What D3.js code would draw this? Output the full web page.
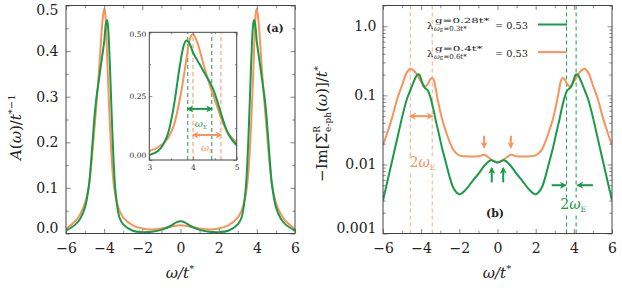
<!DOCTYPE html>
<html>
<head>
<meta charset="utf-8">
<script src="https://cdn.jsdelivr.net/npm/d3@7"></script>
<style>
  body { margin: 0; background: #fff; }
  svg { display: block; font-family: "DejaVu Serif", serif; }
</style>
</head>
<body>
<div class="canvas"></div>
<script>
// spectral function A(w), panel (a)
const omegaA = [-6, -5.5, -5.25, -5, -4.8, -4.7, -4.6, -4.5, -4.4, -4.3, -4.2, -4.1, -4, -3.95, -3.9, -3.85, -3.8, -3.7, -3.55, -3.4, -3.2, -3, -2.5, -2, -1.5, -1, -0.5, -0.25,
  0, 0.25, 0.5, 1, 1.5, 2, 2.5, 3, 3.2, 3.4, 3.55, 3.7, 3.8, 3.85, 3.9, 3.95, 4, 4.1, 4.2, 4.3, 4.4, 4.5, 4.6, 4.7, 4.8, 5, 5.25, 5.5, 6];
const greenA = [0.006, 0.02, 0.033, 0.058, 0.105, 0.15, 0.205, 0.26, 0.30, 0.33, 0.36, 0.39, 0.42, 0.445, 0.462, 0.468, 0.455, 0.37, 0.2, 0.09, 0.035, 0.02, 0.006, 0.003, 0.004, 0.008, 0.017, 0.024,
  0.027, 0.024, 0.017, 0.008, 0.004, 0.003, 0.006, 0.02, 0.035, 0.09, 0.2, 0.37, 0.455, 0.468, 0.462, 0.445, 0.42, 0.39, 0.36, 0.33, 0.30, 0.26, 0.205, 0.15, 0.105, 0.058, 0.033, 0.02, 0.006];
const orangeA = [0.01, 0.028, 0.043, 0.068, 0.105, 0.14, 0.185, 0.235, 0.285, 0.34, 0.40, 0.46, 0.493, 0.485, 0.45, 0.395, 0.34, 0.24, 0.13, 0.08, 0.05, 0.035, 0.018, 0.011, 0.009, 0.011, 0.015, 0.017,
  0.018, 0.017, 0.015, 0.011, 0.009, 0.011, 0.018, 0.035, 0.05, 0.08, 0.13, 0.24, 0.34, 0.395, 0.45, 0.485, 0.493, 0.46, 0.40, 0.34, 0.285, 0.235, 0.185, 0.14, 0.105, 0.068, 0.043, 0.028, 0.01];

// -Im Sigma, panel (b)
const omegaS = [-6, -5.75, -5.5, -5.25, -5, -4.75, -4.57, -4.4, -4.3, -4.2, -4.1, -4, -3.9, -3.8, -3.65, -3.55, -3.47, -3.4, -3.33, -3.25, -3.1, -2.9, -2.7, -2.5, -2.3, -2, -1.7, -1.3, -1, -0.7, -0.35,
  0, 0.35, 0.7, 1, 1.3, 1.7, 2, 2.3, 2.5, 2.7, 2.9, 3.1, 3.25, 3.33, 3.4, 3.47, 3.55, 3.65, 3.8, 3.9, 4, 4.1, 4.2, 4.3, 4.4, 4.57, 4.75, 5, 5.25, 5.5, 5.75, 6];
const greenS = [0.003, 0.006, 0.012, 0.024, 0.048, 0.088, 0.118, 0.155, 0.18, 0.2, 0.2, 0.17, 0.14, 0.128, 0.118, 0.1, 0.085, 0.07, 0.058, 0.045, 0.03, 0.017, 0.0105, 0.0065, 0.0045, 0.0037, 0.0042, 0.0058, 0.0073, 0.0095, 0.0115,
  0.0107, 0.0115, 0.0095, 0.0073, 0.0058, 0.0042, 0.0037, 0.0045, 0.0065, 0.0105, 0.017, 0.03, 0.045, 0.058, 0.07, 0.085, 0.1, 0.118, 0.128, 0.14, 0.17, 0.2, 0.2, 0.18, 0.155, 0.118, 0.088, 0.048, 0.024, 0.012, 0.006, 0.003];
const orangeS = [0.019, 0.03, 0.05, 0.09, 0.14, 0.215, 0.243, 0.23, 0.215, 0.195, 0.175, 0.158, 0.145, 0.135, 0.145, 0.165, 0.176, 0.178, 0.165, 0.13, 0.078, 0.045, 0.03, 0.021, 0.016, 0.0135, 0.0131, 0.013, 0.0131, 0.0138, 0.0119,
  0.0107, 0.0119, 0.0138, 0.0131, 0.013, 0.0131, 0.0135, 0.016, 0.021, 0.03, 0.045, 0.078, 0.13, 0.165, 0.178, 0.176, 0.165, 0.145, 0.135, 0.145, 0.158, 0.175, 0.195, 0.215, 0.23, 0.243, 0.215, 0.14, 0.09, 0.05, 0.03, 0.019];

// ticks
const xTicks = [-6, -4, -2, 0, 2, 4, 6];
const xMinor = [-5, -3, -1, 1, 3, 5];
const aTicks = [0, 0.1, 0.2, 0.3, 0.4, 0.5];
const aMinor = [0.05, 0.15, 0.25, 0.35, 0.45];
const insetXTicks = [3, 4, 5];
const insetXMinor = [3.5, 4.5];
const insetYTicks = [0, 0.25, 0.5];
const insetYMinor = [0.125, 0.375];
const sTicks = [0.001, 0.01, 0.1, 1];
const sLabels = ["0.001", "0.01", "0.1", "1.0"];

// annotation positions (omega values)
const insetGreenDash = [3.88, 4.43];
const insetOrangeDash = [4.0, 4.64];
const sOrangeDash = [-4.57, -3.42];
const sGreenDash = [3.62, 4.12];

const green = "#189a48";
const orange = "#f8935c";

const svg = d3.select(".canvas").append("svg").attr("width", 622).attr("height", 290);

const defs = svg.append("defs");
[["g", green], ["o", orange]].forEach(([id, c]) => {
  defs.append("marker")
    .attr("id", "arr-" + id)
    .attr("viewBox", "0 0 10 10")
    .attr("refX", 8).attr("refY", 5)
    .attr("markerWidth", 7).attr("markerHeight", 7)
    .attr("markerUnits", "userSpaceOnUse")
    .attr("orient", "auto-start-reverse")
    .append("path").attr("d", "M0,0 L10,5 L0,10 L3,5 z").attr("fill", c);
});

// draws ticks on all four sides (inward) plus the box
function box(g, x, y, o) {
  const [y0, y1] = y.range();
  const [x0, x1] = x.range();
  const strip = (sel) => {
    sel.select(".domain").remove();
    sel.selectAll("line").attr("stroke", "#888");
    sel.attr("font-family", null).attr("font-size", o.fs);
    sel.selectAll("text").attr("fill", "#222");
  };
  g.append("g").attr("transform", `translate(0,${y0})`)
    .call(d3.axisBottom(x).tickValues(o.xt).tickSize(-o.tl).tickPadding(o.xpad).tickFormat(o.xf)).call(strip);
  g.append("g").attr("transform", `translate(0,${y0})`)
    .call(d3.axisBottom(x).tickValues(o.xm).tickSize(-o.tl * 0.6).tickFormat("")).call(strip);
  g.append("g").attr("transform", `translate(0,${y1})`)
    .call(d3.axisTop(x).tickValues(o.xt).tickSize(-o.tl).tickFormat("")).call(strip);
  g.append("g").attr("transform", `translate(0,${y1})`)
    .call(d3.axisTop(x).tickValues(o.xm).tickSize(-o.tl * 0.6).tickFormat("")).call(strip);
  const yl = g.append("g").attr("transform", `translate(${x0},0)`)
    .call(d3.axisLeft(y).tickValues(o.yt).tickSize(-o.tl).tickPadding(o.ypad).tickFormat(o.yf)).call(strip);
  g.append("g").attr("transform", `translate(${x0},0)`)
    .call(d3.axisLeft(y).tickValues(o.ym).tickSize(-o.tl * 0.6).tickFormat("")).call(strip);
  g.append("g").attr("transform", `translate(${x1},0)`)
    .call(d3.axisRight(y).tickValues(o.yt).tickSize(-o.tl).tickFormat("")).call(strip);
  g.append("g").attr("transform", `translate(${x1},0)`)
    .call(d3.axisRight(y).tickValues(o.ym).tickSize(-o.tl * 0.6).tickFormat("")).call(strip);
  // nudge the end labels inward like the original
  yl.selectAll(".tick text").attr("dy", (d) => d === o.yt[0] ? (o.lowShift + 0.32 * o.fs) : d === o.yt[o.yt.length - 1] ? (o.highShift + 0.32 * o.fs) : "0.32em");
  g.append("rect").attr("x", x0).attr("y", y1).attr("width", x1 - x0).attr("height", y0 - y1)
    .attr("fill", "none").attr("stroke", "#444").attr("stroke-width", 1);
}

function clip(id, x, y) {
  defs.append("clipPath").attr("id", id).append("rect")
    .attr("x", x.range()[0]).attr("y", y.range()[1])
    .attr("width", x.range()[1] - x.range()[0]).attr("height", y.range()[0] - y.range()[1]);
}

function curve(g, omega, vals, x, y, color, clipId) {
  const line = d3.line()
    .x((i) => x(omega[i]))
    .y((i) => y(vals[i]))
    .curve(d3.curveCatmullRom.alpha(0.5));
  g.append("path")
    .datum(d3.range(omega.length))
    .attr("clip-path", `url(#${clipId})`)
    .attr("fill", "none").attr("stroke", color).attr("stroke-width", 2)
    .attr("stroke-linejoin", "round")
    .attr("d", line);
}

function arrow(g, x1, y1, x2, y2, id, both) {
  g.append("line").attr("x1", x1).attr("y1", y1).attr("x2", x2).attr("y2", y2)
    .attr("stroke", id === "g" ? green : orange).attr("stroke-width", 2)
    .attr("marker-end", `url(#arr-${id})`)
    .attr("marker-start", both ? `url(#arr-${id})` : null);
}

function wE(g, x, y, color, size, bg) {
  const t = g.append("text").attr("x", x).attr("y", y).attr("text-anchor", "middle")
    .attr("fill", color).attr("font-size", size);
  if (size > 11) t.append("tspan").text("2");
  t.append("tspan").attr("font-style", "italic").text("ω");
  t.append("tspan").attr("font-size", size * 0.55).attr("dy", size * 0.22).text("E");
  if (bg) {
    const b = t.node().getBBox();
    g.insert("rect", () => t.node()).attr("x", b.x - 1).attr("y", b.y + 2).attr("width", b.width + 2).attr("height", b.height - 2).attr("fill", "#fff");
  }
}

// ---------- panel (a)
const xA = d3.scaleLinear().domain([-6, 6]).range([66, 295]);
const yA = d3.scaleLinear().domain([0, 0.5]).range([233.5, 5.5]);
const ga = svg.append("g");
clip("clipA", xA, yA);
curve(ga, omegaA, orangeA, xA, yA, orange, "clipA");
curve(ga, omegaA, greenA, xA, yA, green, "clipA");
box(ga, xA, yA, { xt: xTicks, xm: xMinor, yt: aTicks, ym: aMinor, tl: 4.5, xpad: 9.5, ypad: 7.5, fs: 14,
  xf: d3.format(".0f"), yf: d3.format(".1f"), lowShift: -5.5, highShift: 4.5 });

ga.append("text").attr("x", 275).attr("y", 32).attr("text-anchor", "middle")
  .attr("font-size", 11).attr("font-weight", "bold").attr("fill", "#222").text("(a)");

// axis labels
const xlA = ga.append("text").attr("x", 180).attr("y", 278).attr("text-anchor", "middle").attr("font-size", 15).attr("fill", "#222");
xlA.append("tspan").attr("font-style", "italic").text("ω/t");
xlA.append("tspan").attr("font-size", 10).attr("dy", -6).text("*");

const ylA = ga.append("text").attr("transform", "translate(21,160) rotate(-90)").attr("font-size", 15).attr("fill", "#222");
ylA.append("tspan").attr("font-style", "italic").text("A");
ylA.append("tspan").text("(");
ylA.append("tspan").attr("font-style", "italic").text("ω");
ylA.append("tspan").text(")/");
ylA.append("tspan").attr("font-style", "italic").text("t");
ylA.append("tspan").attr("font-size", 10).attr("dy", -6).text("*−1");

// inset
const xI = d3.scaleLinear().domain([3, 5]).range([149.3, 236.7]);
const yI = d3.scaleLinear().domain([0, 0.5]).range([160, 32.3]);
const gi = svg.append("g");
gi.append("rect").attr("x", 149.3).attr("y", 32.3).attr("width", 87.4).attr("height", 127.7).attr("fill", "#fff");
clip("clipI", xI, yI);
insetGreenDash.forEach((w) => gi.append("line").attr("x1", xI(w)).attr("x2", xI(w)).attr("y1", yI.range()[0]).attr("y2", yI.range()[1])
  .attr("stroke", green).attr("stroke-width", 1).attr("stroke-dasharray", "4,3"));
insetOrangeDash.forEach((w) => gi.append("line").attr("x1", xI(w)).attr("x2", xI(w)).attr("y1", yI.range()[0]).attr("y2", yI.range()[1])
  .attr("stroke", orange).attr("stroke-width", 1).attr("stroke-dasharray", "4,3"));
curve(gi, omegaA, orangeA, xI, yI, orange, "clipI");
curve(gi, omegaA, greenA, xI, yI, green, "clipI");
box(gi, xI, yI, { xt: insetXTicks, xm: insetXMinor, yt: insetYTicks, ym: insetYMinor, tl: 3, xpad: 5, ypad: 3, fs: 7.5,
  xf: d3.format(".0f"), yf: d3.format(".2f"), lowShift: -5, highShift: 1.5 });
arrow(gi, xI(insetGreenDash[0]), yI(0.2), xI(insetGreenDash[1]), yI(0.2), "g", true);
arrow(gi, xI(insetOrangeDash[0]), yI(0.098), xI(insetOrangeDash[1]), yI(0.098), "o", true);
wE(gi, xI(4.18), yI(0.13), green, 10, false);
wE(gi, xI(4.32), yI(0.035), orange, 10, false);

// ---------- panel (b)
const xS = d3.scaleLinear().domain([-6, 6]).range([383, 612]);
const yS = d3.scaleLog().domain([0.001, 2]).range([233.5, 5.5]);
const gb = svg.append("g");
clip("clipS", xS, yS);
sOrangeDash.forEach((w) => gb.append("line").attr("x1", xS(w)).attr("x2", xS(w)).attr("y1", yS.range()[0]).attr("y2", yS.range()[1])
  .attr("stroke", orange).attr("stroke-opacity", 0.8).attr("stroke-width", 1).attr("stroke-dasharray", "4,3"));
sGreenDash.forEach((w) => gb.append("line").attr("x1", xS(w)).attr("x2", xS(w)).attr("y1", yS.range()[0]).attr("y2", yS.range()[1])
  .attr("stroke", green).attr("stroke-width", 1).attr("stroke-dasharray", "4,3"));
curve(gb, omegaS, orangeS, xS, yS, orange, "clipS");
curve(gb, omegaS, greenS, xS, yS, green, "clipS");
const sMinor = yS.ticks().filter((v) => !sTicks.includes(v));
box(gb, xS, yS, { xt: xTicks, xm: xMinor, yt: sTicks, ym: sMinor, tl: 4.5, xpad: 9.5, ypad: 6.5, fs: 14,
  xf: d3.format(".0f"), yf: (d) => sLabels[sTicks.indexOf(d)], lowShift: -5.5, highShift: 0 });

// annotations
arrow(gb, xS(sOrangeDash[0]), yS(0.05), xS(sOrangeDash[1]), yS(0.05), "o", true);
wE(gb, xS(-3.93), yS(0.0108) + 5, orange, 14, true);
wE(gb, xS(3.97), yS(0.0027) + 5, green, 14, true);
arrow(gb, xS(2.84), yS(0.005), xS(3.56), yS(0.005), "g", false);
arrow(gb, xS(5.0), yS(0.005), xS(4.2), yS(0.005), "g", false);
[-0.3, 0.3].forEach((w) => arrow(gb, xS(w), yS(0.0055), xS(w), yS(0.0088), "g", false));
[-0.7, 0.7].forEach((w) => arrow(gb, xS(w), yS(0.026), xS(w), yS(0.0176), "o", false));

gb.append("text").attr("x", 495).attr("y", 217).attr("text-anchor", "middle")
  .attr("font-size", 11).attr("font-weight", "bold").attr("fill", "#222").text("(b)");

// legend
const legend = [
  { sup: "g=0.28t*", sub: "=0.3t*", c: green, y: 25.7 },
  { sup: "g=0.4t*", sub: "=0.6t*", c: orange, y: 53.3 }
];
legend.forEach((d) => {
  const lg = gb.append("g").attr("fill", "#222");
  lg.append("text").attr("x", 427).attr("y", d.y + 3.3).attr("font-size", 10).text("λ");
  lg.append("text").attr("x", 435).attr("y", d.y - 2.6).attr("font-size", 7)
    .attr("textLength", d.sup.length * 6.8).attr("lengthAdjust", "spacingAndGlyphs").text(d.sup);
  const s = lg.append("text").attr("x", 434).attr("y", d.y + 5.6).attr("font-size", 7);
  s.append("tspan").attr("font-style", "italic").text("ω");
  s.append("tspan").attr("font-size", 5).attr("dy", 1).text("E");
  s.append("tspan").attr("dy", -1).text(d.sub);
  lg.append("text").attr("x", 495).attr("y", d.y + 3.5).attr("font-size", 10)
    .attr("textLength", 33).attr("lengthAdjust", "spacingAndGlyphs").text("= 0.53");
  lg.append("line").attr("x1", 538).attr("x2", 567).attr("y1", d.y - 1.2).attr("y2", d.y - 1.2)
    .attr("stroke", d.c).attr("stroke-width", 2);
});

// axis labels
const xlS = gb.append("text").attr("x", 497).attr("y", 278).attr("text-anchor", "middle").attr("font-size", 15).attr("fill", "#222");
xlS.append("tspan").attr("font-style", "italic").text("ω/t");
xlS.append("tspan").attr("font-size", 10).attr("dy", -6).text("*");

const ylS = gb.append("text").attr("transform", "translate(327,124) rotate(-90)").attr("text-anchor", "middle").attr("font-size", 15).attr("fill", "#222");
ylS.append("tspan").text("−Im[Σ");
ylS.append("tspan").attr("font-size", 9).attr("dy", -7).text("R");
ylS.append("tspan").attr("font-size", 9).attr("dx", -6).attr("dy", 11).text("e-ph");
ylS.append("tspan").attr("dy", -4).text("(");
ylS.append("tspan").attr("font-style", "italic").text("ω");
ylS.append("tspan").text(")]/");
ylS.append("tspan").attr("font-style", "italic").text("t");
ylS.append("tspan").attr("font-size", 10).attr("dy", -6).text("*");
</script>
</body>
</html>
